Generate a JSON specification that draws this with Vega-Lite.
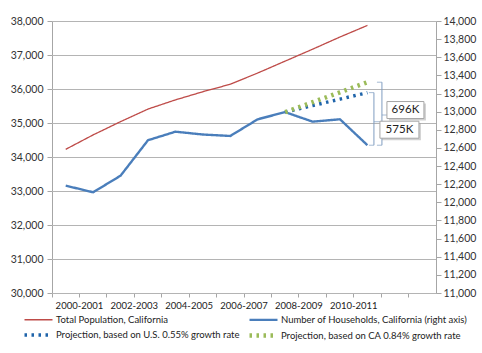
{
  "$schema": "https://vega.github.io/schema/vega-lite/v6.json",
  "width": 384,
  "height": 272,
  "autosize": "none",
  "padding": {"left": 52, "top": 21, "right": 46, "bottom": 60},
  "background": "white",
  "config": {
    "font": "Lato",
    "view": {"stroke": null},
    "axis": {"labelFont": "Lato", "labelColor": "#333333", "domainColor": "#a6a6a6", "tickColor": "#a6a6a6", "title": null},
    "legend": {"labelFont": "Lato"}
  },
  "datasets": {
    "gridlevels": [
      {"level": 30000}, {"level": 31000}, {"level": 32000}, {"level": 33000}, {"level": 34000},
      {"level": 35000}, {"level": 36000}, {"level": 37000}, {"level": 38000}
    ],
    "series": [
      {"period": "2000-2001", "series": "Total Population, California", "value": 34226},
      {"period": "2001-2002", "series": "Total Population, California", "value": 34650},
      {"period": "2002-2003", "series": "Total Population, California", "value": 35040},
      {"period": "2003-2004", "series": "Total Population, California", "value": 35410},
      {"period": "2004-2005", "series": "Total Population, California", "value": 35680},
      {"period": "2005-2006", "series": "Total Population, California", "value": 35920},
      {"period": "2006-2007", "series": "Total Population, California", "value": 36140},
      {"period": "2007-2008", "series": "Total Population, California", "value": 36470},
      {"period": "2008-2009", "series": "Total Population, California", "value": 36820},
      {"period": "2009-2010", "series": "Total Population, California", "value": 37170},
      {"period": "2010-2011", "series": "Total Population, California", "value": 37530},
      {"period": "2011-2012", "series": "Total Population, California", "value": 37870},
      {"period": "2000-2001", "series": "Number of Households, California (right axis)", "value": 12184},
      {"period": "2001-2002", "series": "Number of Households, California (right axis)", "value": 12111},
      {"period": "2002-2003", "series": "Number of Households, California (right axis)", "value": 12294},
      {"period": "2003-2004", "series": "Number of Households, California (right axis)", "value": 12685},
      {"period": "2004-2005", "series": "Number of Households, California (right axis)", "value": 12779},
      {"period": "2005-2006", "series": "Number of Households, California (right axis)", "value": 12748},
      {"period": "2006-2007", "series": "Number of Households, California (right axis)", "value": 12732},
      {"period": "2007-2008", "series": "Number of Households, California (right axis)", "value": 12916},
      {"period": "2008-2009", "series": "Number of Households, California (right axis)", "value": 12995},
      {"period": "2009-2010", "series": "Number of Households, California (right axis)", "value": 12890},
      {"period": "2010-2011", "series": "Number of Households, California (right axis)", "value": 12916},
      {"period": "2011-2012", "series": "Number of Households, California (right axis)", "value": 12630},
      {"period": "2008-2009", "series": "Projection, based on U.S. 0.55% growth rate", "value": 12995},
      {"period": "2009-2010", "series": "Projection, based on U.S. 0.55% growth rate", "value": 13067},
      {"period": "2010-2011", "series": "Projection, based on U.S. 0.55% growth rate", "value": 13138},
      {"period": "2011-2012", "series": "Projection, based on U.S. 0.55% growth rate", "value": 13210},
      {"period": "2008-2009", "series": "Projection, based on CA 0.84% growth rate", "value": 12995},
      {"period": "2009-2010", "series": "Projection, based on CA 0.84% growth rate", "value": 13104},
      {"period": "2010-2011", "series": "Projection, based on CA 0.84% growth rate", "value": 13214},
      {"period": "2011-2012", "series": "Projection, based on CA 0.84% growth rate", "value": 13325}
    ],
    "notes": [
      {"period": "2011-2012", "label": "696K", "top": 13325, "bottom": 12630, "notch": 12963, "box": 13018},
      {"period": "2011-2012", "label": "575K", "top": 13210, "bottom": 12630, "notch": 12889, "box": 12801}
    ]
  },
  "layer": [
    {
      "data": {"name": "gridlevels"},
      "mark": {"type": "rule", "color": "#b4b4b4", "strokeWidth": 1, "yOffset": 0.5},
      "encoding": {
        "y": {"field": "level", "type": "quantitative", "scale": {"domain": [30000, 38000], "nice": false, "zero": false},
          "axis": {"orient": "left", "values": [30000,31000,32000,33000,34000,35000,36000,37000,38000], "labels": false, "domain": false, "grid": false, "ticks": true, "tickSize": -384, "tickColor": "#b4b4b4", "tickWidth": 1, "title": null}}
      }
    },
    {
      "data": {"name": "series"},
      "transform": [{"filter": "datum.series === 'Total Population, California'"}],
      "mark": {"type": "line"},
      "encoding": {
        "x": {
          "field": "period", "type": "ordinal", "bandPosition": 0.5,
          "scale": {"type": "band", "paddingInner": 0, "paddingOuter": 0,
            "domain": ["2000-2001","2001-2002","2002-2003","2003-2004","2004-2005","2005-2006","2006-2007","2007-2008","2008-2009","2009-2010","2010-2011","2011-2012","2012-2013","2013-2014"]},
          "axis": {"bandPosition": 0, "labelOffset": 13.7, "labelAngle": 0, "labelFontSize": 9.5, "tickSize": 4, "labelPadding": 3, "labelColor": "#222222", "grid": false,
            "labelExpr": "indexof(['2000-2001','2002-2003','2004-2005','2006-2007','2008-2009','2010-2011'], datum.value) >= 0 ? datum.value : ''"}
        },
        "y": {"field": "value", "type": "quantitative",
          "scale": {"domain": [30000, 38000], "nice": false, "zero": false},
          "axis": {"orient": "left", "values": [30000,31000,32000,33000,34000,35000,36000,37000,38000], "format": ",.0f", "formatType": "number", "labelFontSize": 10.5, "tickSize": 5, "labelPadding": 4, "grid": false}},
        "color": {"field": "series", "type": "nominal",
          "scale": {"domain": ["Total Population, California","Number of Households, California (right axis)","Projection, based on U.S. 0.55% growth rate","Projection, based on CA 0.84% growth rate"],
            "range": ["#BE4B48","#4A7EBB","#1F64AA","#9BBB59"]},
          "legend": {"title": null, "orient": "none", "legendX": -18, "legendY": 289, "columns": 2, "direction": "horizontal", "symbolType": "M-2.5,0H1", "symbolSize": 256, "labelFontSize": 9.5, "labelColor": "#222222", "labelOffset": 1, "rowPadding": 0, "columnPadding": 0, "labelLimit": 300}},
        "strokeDash": {"field": "series", "type": "nominal",
          "scale": {"domain": ["Total Population, California","Number of Households, California (right axis)","Projection, based on U.S. 0.55% growth rate","Projection, based on CA 0.84% growth rate"],
            "range": [[1,0],[1,0],[2.5,4.5],[2.5,4.5]]}},
        "strokeWidth": {"field": "series", "type": "nominal",
          "scale": {"domain": ["Total Population, California","Number of Households, California (right axis)","Projection, based on U.S. 0.55% growth rate","Projection, based on CA 0.84% growth rate"],
            "range": [1.3, 4.5, 3.5, 3.5]}}
      }
    },
    {
      "data": {"name": "series"},
      "transform": [{"filter": "datum.series !== 'Total Population, California'"}],
      "mark": {"type": "line", "strokeJoin": "round"},
      "encoding": {
        "x": {"field": "period", "type": "ordinal", "bandPosition": 0.5},
        "y": {"field": "value", "type": "quantitative",
          "scale": {"domain": [11000, 14000], "nice": false, "zero": false},
          "axis": {"orient": "right", "values": [11000,11200,11400,11600,11800,12000,12200,12400,12600,12800,13000,13200,13400,13600,13800,14000], "format": ",.0f", "formatType": "number", "labelFontSize": 10.5, "tickSize": 5, "labelPadding": 2, "grid": false}},
        "color": {"field": "series", "type": "nominal"},
        "strokeDash": {"field": "series", "type": "nominal"},
        "strokeWidth": {"field": "series", "type": "nominal"}
      }
    },
    {
      "data": {"name": "notes"},
      "transform": [{"filter": "datum.label === '696K'"}],
      "mark": {"type": "rule", "color": "#7f9cc0", "strokeWidth": 1, "xOffset": 14.5},
      "encoding": {
        "x": {"field": "period", "type": "ordinal", "bandPosition": 0.5},
        "y": {"field": "top", "type": "quantitative", "scale": {"domain": [11000, 14000], "nice": false, "zero": false}, "axis": null},
        "y2": {"field": "bottom"}
      }
    },
    {
      "data": {"name": "notes"},
      "transform": [{"filter": "datum.label === '696K'"}, {"fold": ["top", "bottom"], "as": ["end", "level"]}],
      "mark": {"type": "tick", "orient": "horizontal", "color": "#7f9cc0", "thickness": 1, "size": 5, "xOffset": 12},
      "encoding": {
        "x": {"field": "period", "type": "ordinal", "bandPosition": 0.5},
        "y": {"field": "level", "type": "quantitative", "scale": {"domain": [11000, 14000], "nice": false, "zero": false}, "axis": null}
      }
    },
    {
      "data": {"name": "notes"},
      "transform": [{"filter": "datum.label === '696K'"}],
      "mark": {"type": "tick", "orient": "horizontal", "color": "#7f9cc0", "thickness": 1, "size": 6, "xOffset": 17.5},
      "encoding": {
        "x": {"field": "period", "type": "ordinal", "bandPosition": 0.5},
        "y": {"field": "notch", "type": "quantitative", "scale": {"domain": [11000, 14000], "nice": false, "zero": false}, "axis": null}
      }
    },
    {
      "data": {"name": "notes"},
      "transform": [{"filter": "datum.label === '575K'"}],
      "mark": {"type": "rule", "color": "#7f9cc0", "strokeWidth": 1, "xOffset": 6.5},
      "encoding": {
        "x": {"field": "period", "type": "ordinal", "bandPosition": 0.5},
        "y": {"field": "top", "type": "quantitative", "scale": {"domain": [11000, 14000], "nice": false, "zero": false}, "axis": null},
        "y2": {"field": "bottom"}
      }
    },
    {
      "data": {"name": "notes"},
      "transform": [{"filter": "datum.label === '575K'"}, {"fold": ["top", "bottom"], "as": ["end", "level"]}],
      "mark": {"type": "tick", "orient": "horizontal", "color": "#7f9cc0", "thickness": 1, "size": 5, "xOffset": 4},
      "encoding": {
        "x": {"field": "period", "type": "ordinal", "bandPosition": 0.5},
        "y": {"field": "level", "type": "quantitative", "scale": {"domain": [11000, 14000], "nice": false, "zero": false}, "axis": null}
      }
    },
    {
      "data": {"name": "notes"},
      "transform": [{"filter": "datum.label === '575K'"}],
      "mark": {"type": "tick", "orient": "horizontal", "color": "#7f9cc0", "thickness": 1, "size": 6, "xOffset": 9.5},
      "encoding": {
        "x": {"field": "period", "type": "ordinal", "bandPosition": 0.5},
        "y": {"field": "notch", "type": "quantitative", "scale": {"domain": [11000, 14000], "nice": false, "zero": false}, "axis": null}
      }
    },
    {
      "data": {"name": "notes"},
      "transform": [{"filter": "datum.label === '696K'"}],
      "mark": {"type": "rect", "fill": "#999999", "opacity": 0.45, "width": 37, "height": 17, "xOffset": 40, "yOffset": 2},
      "encoding": {
        "x": {"field": "period", "type": "ordinal"},
        "y": {"field": "box", "type": "quantitative", "scale": {"domain": [11000, 14000], "nice": false, "zero": false}, "axis": null}
      }
    },
    {
      "data": {"name": "notes"},
      "transform": [{"filter": "datum.label === '696K'"}],
      "mark": {"type": "rect", "fill": "white", "stroke": "#a6a6a6", "strokeWidth": 1, "width": 37, "height": 17, "xOffset": 38},
      "encoding": {
        "x": {"field": "period", "type": "ordinal"},
        "y": {"field": "box", "type": "quantitative", "scale": {"domain": [11000, 14000], "nice": false, "zero": false}, "axis": null}
      }
    },
    {
      "data": {"name": "notes"},
      "transform": [{"filter": "datum.label === '696K'"}],
      "mark": {"type": "text", "font": "Lato", "fontSize": 11.5, "color": "#222222", "xOffset": 38, "align": "center", "baseline": "middle"},
      "encoding": {
        "x": {"field": "period", "type": "ordinal", "bandPosition": 0.5},
        "y": {"field": "box", "type": "quantitative", "scale": {"domain": [11000, 14000], "nice": false, "zero": false}, "axis": null},
        "text": {"field": "label"}
      }
    },
    {
      "data": {"name": "notes"},
      "transform": [{"filter": "datum.label === '575K'"}],
      "mark": {"type": "rect", "fill": "#999999", "opacity": 0.45, "width": 39, "height": 17, "xOffset": 34, "yOffset": 2},
      "encoding": {
        "x": {"field": "period", "type": "ordinal"},
        "y": {"field": "box", "type": "quantitative", "scale": {"domain": [11000, 14000], "nice": false, "zero": false}, "axis": null}
      }
    },
    {
      "data": {"name": "notes"},
      "transform": [{"filter": "datum.label === '575K'"}],
      "mark": {"type": "rect", "fill": "white", "stroke": "#a6a6a6", "strokeWidth": 1, "width": 39, "height": 17, "xOffset": 32},
      "encoding": {
        "x": {"field": "period", "type": "ordinal"},
        "y": {"field": "box", "type": "quantitative", "scale": {"domain": [11000, 14000], "nice": false, "zero": false}, "axis": null}
      }
    },
    {
      "data": {"name": "notes"},
      "transform": [{"filter": "datum.label === '575K'"}],
      "mark": {"type": "text", "font": "Lato", "fontSize": 11.5, "color": "#222222", "xOffset": 32, "align": "center", "baseline": "middle"},
      "encoding": {
        "x": {"field": "period", "type": "ordinal", "bandPosition": 0.5},
        "y": {"field": "box", "type": "quantitative", "scale": {"domain": [11000, 14000], "nice": false, "zero": false}, "axis": null},
        "text": {"field": "label"}
      }
    }
  ],
  "resolve": {"scale": {"y": "independent"}}
}
